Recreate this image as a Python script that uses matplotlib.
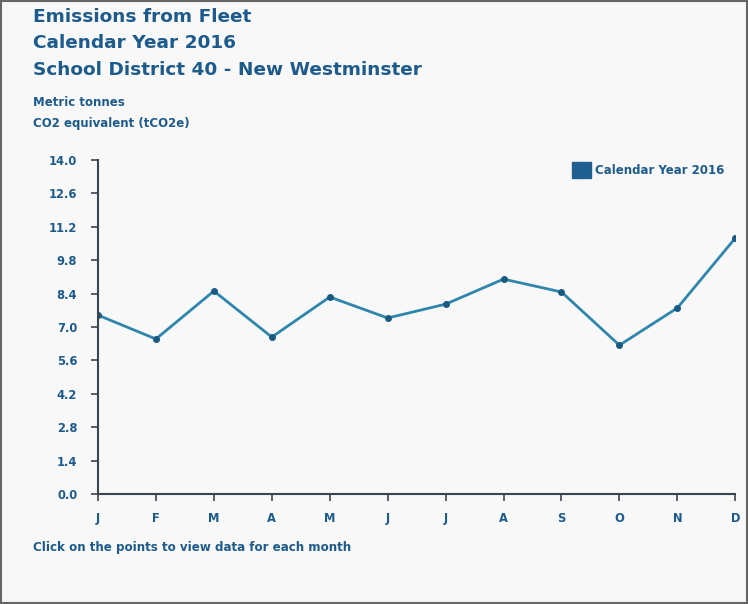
import matplotlib
matplotlib.use("Agg")
import matplotlib.pyplot as plt
from matplotlib.patches import Patch

months = ["J", "F", "M", "A", "M", "J", "J", "A", "S", "O", "N", "D"]
emissions = [7.50, 6.50, 8.51, 6.58, 8.26, 7.38, 7.96, 9.01, 8.47, 6.24, 7.80, 10.73]
y_ticks = [0.0, 1.4, 2.8, 4.2, 5.6, 7.0, 8.4, 9.8, 11.2, 12.6, 14.0]

title_lines = ["Emissions from Fleet", "Calendar Year 2016", "School District 40 - New Westminster"]
unit_lines = ["Metric tonnes", "CO2 equivalent (tCO2e)"]
series_name = "Calendar Year 2016"
footer = "Click on the points to view data for each month"

text_col = "#1d5b8c"
line_col = "#2f86ad"
mark_col = "#1a5a82"

fig = plt.figure(figsize=(7.48, 6.04), dpi=100)
fig.patch.set_facecolor("#f8f8f8")
ax = fig.add_axes([0.131, 0.182, 0.852, 0.553])
ax.set_facecolor("#f8f8f8")

x = list(range(len(months)))
ax.plot(x, emissions, color=line_col, lw=2, marker="o", ms=4,
        markerfacecolor=mark_col, markeredgecolor=mark_col)

ax.set_xlim(0, 11)
ax.set_ylim(0, 14)
ax.set_yticks(y_ticks)
ax.set_yticklabels([f"{v:.1f}" for v in y_ticks])
ax.set_xticks(x)
ax.set_xticklabels(months)
for s in ["top", "right"]:
    ax.spines[s].set_visible(False)
for s in ["left", "bottom"]:
    ax.spines[s].set_color("#3c4450")
    ax.spines[s].set_linewidth(1.5)
ax.tick_params(axis="both", colors="#3c4450", length=5, width=1.2,
               labelcolor=text_col, labelsize=8.3)
for lab in ax.get_xticklabels() + ax.get_yticklabels():
    lab.set_fontweight("bold")
ax.tick_params(axis="y", pad=10)
ax.tick_params(axis="x", pad=8)

# titles
for i, t in enumerate(title_lines):
    fig.text(0.044, 1 - (17 + i * 26.5) / 604, t, fontsize=13.3, fontweight="bold",
             color=text_col, va="center", ha="left")
for i, t in enumerate(unit_lines):
    fig.text(0.044, 1 - (103 + i * 20) / 604, t, fontsize=8.5, fontweight="bold",
             color=text_col, va="center", ha="left")
fig.text(0.044, 1 - 548 / 604, footer, fontsize=8.6, fontweight="bold",
         color=text_col, va="center", ha="left")

leg = ax.legend(handles=[Patch(facecolor="#1f5f8f", edgecolor="#1f5f8f", label=series_name)],
                loc="upper right", bbox_to_anchor=(1.0, 1.025), frameon=False,
                handlelength=1.6, handleheight=1.7, handletextpad=0.4,
                prop={"size": 8.5, "weight": "bold"})
for t in leg.get_texts():
    t.set_color(text_col)

# scanned frame
fig.add_artist(plt.Rectangle((0.002, 0.002), 0.996, 0.996, transform=fig.transFigure,
                             fill=False, edgecolor="#666666", lw=1.5))

fig.savefig("out.png", dpi=100, facecolor=fig.get_facecolor())
